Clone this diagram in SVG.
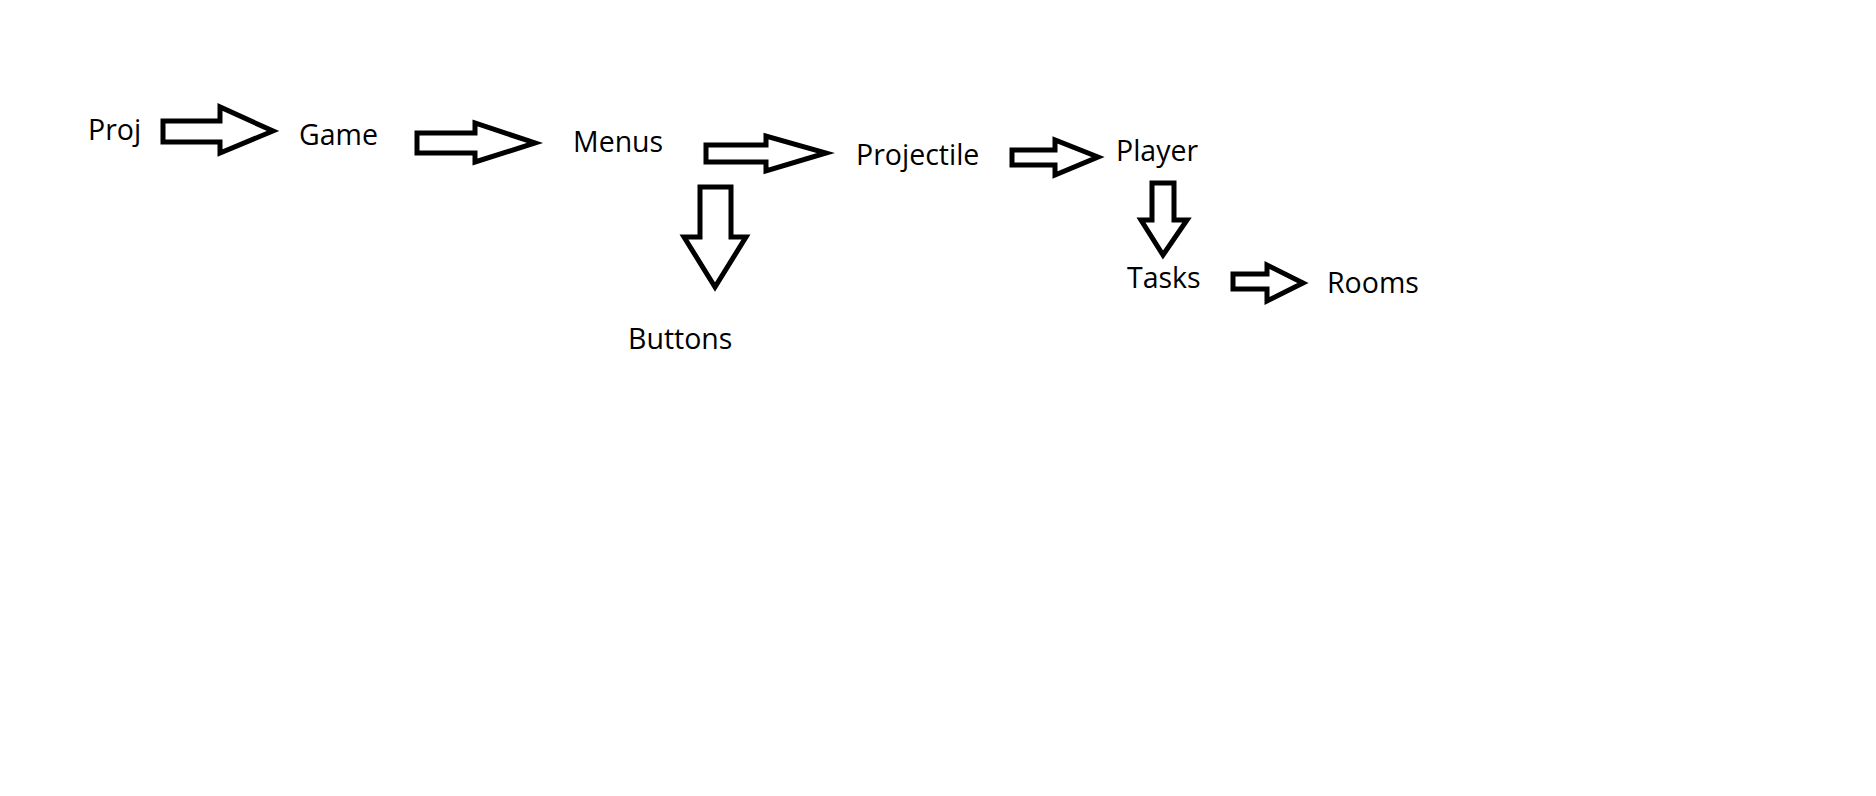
<svg xmlns="http://www.w3.org/2000/svg" width="1876" height="796" viewBox="0 0 1876 796">
<style>
.lbl{font-family:"Open Sans","Noto Sans","Liberation Sans",sans-serif;font-size:28.5px;fill:#000}
.arr{fill:#fff;stroke:#000;stroke-width:5;stroke-linejoin:miter}
</style>
<rect width="1876" height="796" fill="#fff"/>
<g id="connectors">
<polygon class="arr" points="163,121 220,121 220,107 273,131 220,153 220,142 163,142"/>
<polygon class="arr" points="417,133 475,133 475,123 535,143 475,162 475,153 417,153"/>
<polygon class="arr" points="706,145 766,145 766,136 826,153 766,171 766,162 706,162"/>
<polygon class="arr" points="1012,150 1055,150 1055,140 1098,157 1055,175 1055,165 1012,165"/>
<polygon class="arr" points="700,187 731,187 731,237 746,237 715,287 684,237 700,237"/>
<polygon class="arr" points="1152,183 1174,183 1174,220 1187,220 1163,255 1141,220 1152,220"/>
<polygon class="arr" points="1233,274 1267,274 1267,265 1303,283 1267,301 1267,289 1233,289"/>
</g>
<g id="node-proj"><text class="lbl" x="88" y="140">Proj</text></g>
<g id="node-game"><text class="lbl" x="299" y="145">Game</text></g>
<g id="node-menus"><text class="lbl" x="573" y="152">Menus</text></g>
<g id="node-projectile"><text class="lbl" x="856" y="165">Projectile</text></g>
<g id="node-player"><text class="lbl" x="1116" y="161">Player</text></g>
<g id="node-buttons"><text class="lbl" x="628" y="349">Buttons</text></g>
<g id="node-tasks"><text class="lbl" x="1127" y="288">Tasks</text></g>
<g id="node-rooms"><text class="lbl" x="1327" y="293">Rooms</text></g>
</svg>
